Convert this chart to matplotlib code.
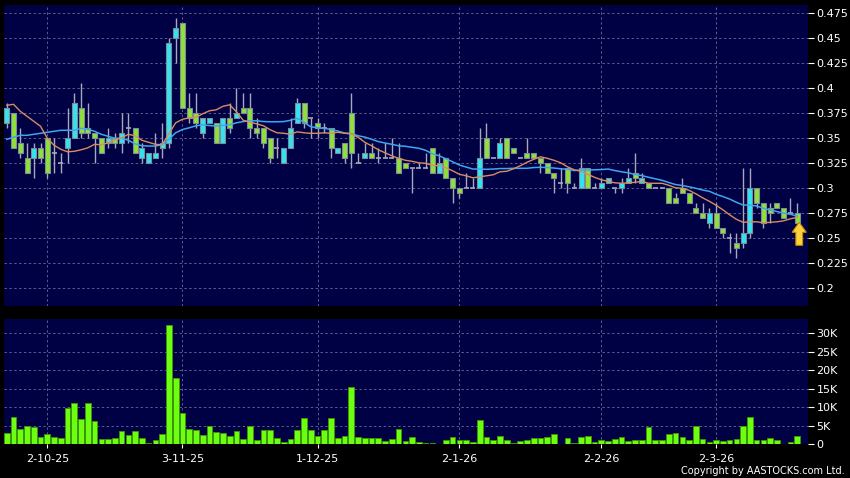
import numpy as np
import pandas as pd
import matplotlib
matplotlib.use("Agg")
import matplotlib.pyplot as plt
from matplotlib.patches import Polygon

opens = [.365,.375,.345,.33,.33,.34,.35,.335,.325,.34,.35,.38,.36,.355,.35,.345,.35,.345,.36,.36,
         .33,.325,.33,.34,.345,.45,.465,.38,.375,.355,.365,.365,.345,.37,.37,.38,.38,.36,.36,.35,
         .34,.325,.34,.365,.385,.37,.365,.36,.36,.335,.345,.375,.325,.33,.335,.33,.33,.33,.33,.325,
         .32,.32,.32,.34,.315,.33,.31,.30,.30,.30,.30,.35,.33,.33,.35,.34,.33,.335,.335,.33,
         .325,.315,.305,.32,.30,.30,.32,.30,.30,.305,.30,.30,.305,.315,.305,.305,.30,.30,.30,.29,
         .30,.295,.28,.275,.265,.275,.26,.25,.245,.245,.255,.30,.285,.28,.285,.28,.275,.275]
highs = [.385,.375,.36,.345,.345,.345,.35,.35,.335,.38,.395,.405,.385,.355,.35,.36,.355,.375,.375,.36,
         .345,.335,.355,.365,.45,.47,.465,.395,.395,.37,.37,.365,.37,.385,.40,.395,.395,.37,.36,.35,
         .35,.34,.37,.39,.385,.37,.37,.365,.36,.34,.345,.395,.335,.345,.345,.34,.345,.35,.345,.325,
         .32,.325,.335,.34,.335,.33,.31,.30,.315,.31,.36,.365,.33,.35,.35,.34,.33,.35,.335,.33,
         .325,.315,.32,.32,.305,.33,.32,.305,.31,.31,.30,.31,.32,.335,.315,.305,.30,.30,.30,.295,
         .31,.295,.285,.285,.28,.285,.26,.255,.255,.32,.32,.30,.285,.285,.285,.28,.29,.285]
lows = [.36,.34,.33,.315,.31,.325,.31,.315,.315,.325,.35,.35,.35,.325,.335,.34,.34,.335,.345,.335,
        .325,.325,.33,.33,.34,.425,.38,.365,.36,.35,.365,.345,.345,.355,.37,.375,.35,.35,.34,.325,
        .33,.325,.34,.365,.36,.35,.35,.355,.33,.335,.325,.32,.325,.33,.33,.325,.33,.33,.315,.32,
        .295,.32,.32,.315,.315,.31,.285,.29,.30,.30,.30,.33,.33,.33,.33,.335,.33,.33,.33,.315,
        .315,.295,.30,.295,.30,.30,.30,.30,.30,.305,.295,.295,.305,.305,.305,.30,.30,.30,.285,.285,
        .295,.285,.275,.27,.26,.26,.25,.235,.23,.24,.25,.28,.26,.265,.28,.27,.275,.265]
closes = [.38,.34,.335,.315,.34,.33,.315,.335,.325,.35,.385,.355,.355,.35,.335,.35,.345,.355,.36,.335,
          .34,.335,.335,.345,.445,.46,.38,.37,.365,.37,.37,.345,.37,.36,.375,.375,.36,.355,.345,.33,
          .34,.34,.36,.385,.365,.37,.36,.36,.34,.34,.33,.335,.325,.335,.33,.33,.33,.33,.315,.32,
          .32,.32,.32,.315,.325,.31,.30,.295,.30,.30,.33,.33,.33,.345,.33,.335,.33,.33,.33,.325,
          .315,.31,.305,.305,.30,.32,.30,.30,.305,.31,.30,.305,.31,.31,.31,.30,.30,.30,.285,.285,
          .295,.285,.275,.27,.275,.26,.255,.25,.24,.255,.30,.285,.265,.275,.28,.27,.275,.265]

# volume in thousands of shares
volume = [3.0,7.2,4.2,5.0,4.7,1.8,2.7,1.8,1.6,9.8,11.1,6.7,11.0,6.3,1.4,1.4,1.5,3.5,2.5,3.5,
          1.6,0.2,1.1,2.6,32.2,17.9,8.5,4.1,3.7,2.5,4.8,3.3,3.0,2.2,3.6,1.4,4.9,1.2,3.8,3.9,
          1.7,0.5,1.3,3.9,7.0,3.8,2.1,3.7,7.1,1.5,2.3,15.4,1.9,1.7,1.7,1.7,0.9,1.4,4.1,0.9,
          1.9,0.5,0.3,0.4,0.1,1.0,2.0,1.0,1.0,0.6,6.5,1.8,1.0,2.1,1.0,0.2,0.8,1.2,1.6,1.6,
          1.8,2.8,0.1,1.5,0.4,1.8,2.2,0.6,1.2,0.8,1.4,1.9,0.8,1.0,1.1,4.5,1.2,1.0,2.8,3.0,
          1.8,1.1,5.0,1.4,0.5,1.0,0.9,1.0,1.3,5.0,7.3,1.0,1.2,1.6,1.0,0.05,0.5,2.1]

# moving averages before enough history is on the chart
ma10_lead = [.383,.384,.377,.372,.367,.362,.35,.343,.339]
ma20_lead = [.349,.351,.353,.353,.354,.355,.356,.357,.358,.358,.358,.36,.359,.357,.354,.352,.35,.35,.348]

date_pos = [6, 26, 46, 67, 88, 105]
date_labels = ['2-10-25', '3-11-25', '1-12-25', '2-1-26', '2-2-26', '2-3-26']
price_ticks = [0.2, 0.225, 0.25, 0.275, 0.3, 0.325, 0.35, 0.375, 0.4, 0.425, 0.45, 0.475]
price_labels = ['0.2', '0.225', '0.25', '0.275', '0.3', '0.325', '0.35', '0.375', '0.4', '0.425', '0.45', '0.475']
vol_ticks = [0, 5, 10, 15, 20, 25, 30]
vol_labels = ['0', '5K', '10K', '15K', '20K', '25K', '30K']

bg = '#000044'
grid_col = '#5c5c8c'
up_col = '#33e3f2'
down_col = '#8fe03a'
wick_col = '#a8a8bc'

df = pd.DataFrame({'o': opens, 'h': highs, 'l': lows, 'c': closes, 'v': volume})
x = np.arange(len(df))
ma10 = df['c'].rolling(10).mean().values
ma20 = df['c'].rolling(20).mean().values
ma10[:len(ma10_lead)] = ma10_lead
ma20[:len(ma20_lead)] = ma20_lead

fig = plt.figure(figsize=(8.5, 4.78), dpi=100, facecolor='black')
ax1 = fig.add_axes([4/850, 1-306/478, 804/850, 301/478], facecolor=bg)
ax2 = fig.add_axes([4/850, 1-444/478, 804/850, 125/478], facecolor=bg)

for ax in (ax1, ax2):
    for s in ax.spines.values():
        s.set_visible(False)
    ax.set_xlim(-0.41, 118.6)
    ax.yaxis.tick_right()
    ax.tick_params(axis='y', colors='white', labelsize=8, length=4, width=0.8, pad=2)
    ax.set_xticks(date_pos)
    ax.grid(True, color=grid_col, linestyle=(0, (2.5, 2.5)), linewidth=0.7)
    ax.set_axisbelow(True)

# price panel
ax1.set_ylim(0.1823, 0.4833)
ax1.set_yticks(price_ticks)
ax1.set_yticklabels(price_labels)
ax1.tick_params(axis='x', length=0, labelbottom=False)

ax1.vlines(x, df['l'], df['h'], color=wick_col, linewidth=1, zorder=2)
body_w = 0.74
for i in x:
    o, c = df['o'][i], df['c'][i]
    if o == c:
        ax1.hlines(o, i - body_w/2, i + body_w/2, color=wick_col, linewidth=1.2, zorder=3)
    else:
        col = up_col if c > o else down_col
        ax1.bar(i, abs(c - o), bottom=min(o, c), width=body_w, color=col,
                edgecolor='#7d8c96', linewidth=0.8, zorder=3)

ax1.plot(x, ma20, color='#3ea6f0', linewidth=1.1, zorder=4)
ax1.plot(x, ma10, color='#d98c5f', linewidth=1.0, zorder=5)

# last-price arrow under the final candle
last = len(df) - 1
ax_ = last + 0.3
tip = closes[-1] + 0.001
arrow = Polygon([(ax_, tip), (ax_ + 1.05, tip - 0.010), (ax_ + 0.5, tip - 0.010),
                 (ax_ + 0.5, tip - 0.023), (ax_ - 0.5, tip - 0.023), (ax_ - 0.5, tip - 0.010),
                 (ax_ - 1.05, tip - 0.010)], closed=True,
                facecolor='#ffd23c', edgecolor='#c98a00', linewidth=0.8, zorder=6)
ax1.add_patch(arrow)

# volume panel
ax2.set_ylim(0, 33.9)
ax2.set_yticks(vol_ticks)
ax2.set_yticklabels(vol_labels)
ax2.bar(x, df['v'], width=0.84, color='#6cff12', edgecolor='#3f9a00', linewidth=0.6, zorder=3)
ax2.set_xticklabels(date_labels)
ax2.tick_params(axis='x', colors='white', labelsize=8, length=3, width=0.8, pad=4)

fig.text(845/850, 1-471/478, 'Copyright by AASTOCKS.com Ltd.', color='white',
         fontsize=7, ha='right', va='center')

plt.savefig('out.png', dpi=100, facecolor='black')
